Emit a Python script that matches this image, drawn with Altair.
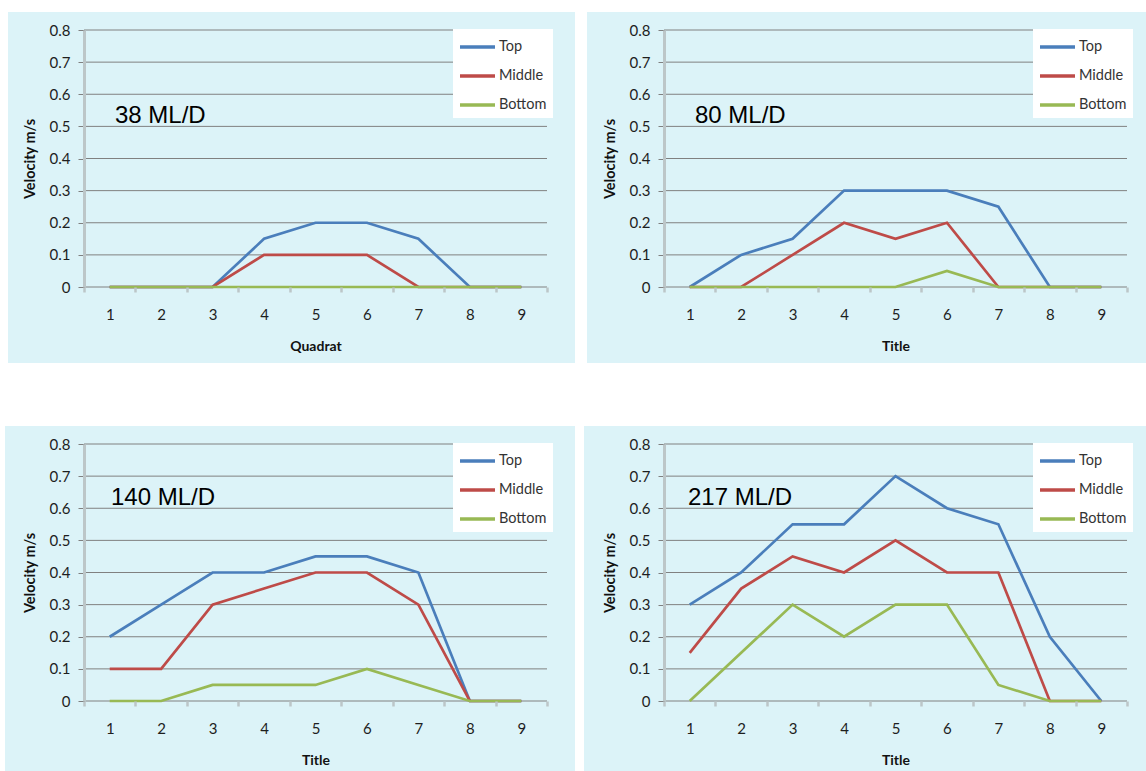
import altair as alt
import pandas as pd

# Quadrat positions along the channel
quadrats = [1, 2, 3, 4, 5, 6, 7, 8, 9]
series = ["Top", "Middle", "Bottom"]
series_colors = ["#4a7ebb", "#be4b48", "#98b954"]

# Velocity (m/s) at each quadrat, per flow rate
top_38 = [0, 0, 0, 0.15, 0.2, 0.2, 0.15, 0, 0]
middle_38 = [0, 0, 0, 0.1, 0.1, 0.1, 0, 0, 0]
bottom_38 = [0, 0, 0, 0, 0, 0, 0, 0, 0]

top_80 = [0, 0.1, 0.15, 0.3, 0.3, 0.3, 0.25, 0, 0]
middle_80 = [0, 0, 0.1, 0.2, 0.15, 0.2, 0, 0, 0]
bottom_80 = [0, 0, 0, 0, 0, 0.05, 0, 0, 0]

top_140 = [0.2, 0.3, 0.4, 0.4, 0.45, 0.45, 0.4, 0, 0]
middle_140 = [0.1, 0.1, 0.3, 0.35, 0.4, 0.4, 0.3, 0, 0]
bottom_140 = [0, 0, 0.05, 0.05, 0.05, 0.1, 0.05, 0, 0]

top_217 = [0.3, 0.4, 0.55, 0.55, 0.7, 0.6, 0.55, 0.2, 0]
middle_217 = [0.15, 0.35, 0.45, 0.4, 0.5, 0.4, 0.4, 0, 0]
bottom_217 = [0, 0.15, 0.3, 0.2, 0.3, 0.3, 0.05, 0, 0]

flow_labels = ["38 ML/D", "80 ML/D", "140 ML/D", "217 ML/D"]
x_titles = ["Quadrat", "Title", "Title", "Title"]
y_ticks = [0, 0.1, 0.2, 0.3, 0.4, 0.5, 0.6, 0.7, 0.8]

W, H = 463, 257
BG = "#dcf3f8"
LABEL_FONT = "Lato"
Y_SCALE = alt.Scale(domain=[0, 0.8], nice=False)


def y_axis():
    return alt.Axis(
        title="Velocity m/s", values=y_ticks, grid=False,
        labelExpr="datum.value == 0 ? '0' : format(datum.value, '.1f')",
        domain=True, domainColor="#bcc6c8", domainWidth=3,
        ticks=True, tickColor="#808080", tickSize=6, tickWidth=1,
        labelPadding=8, labelFontSize=15, labelFont=LABEL_FONT,
        labelColor="#1e1e1e", titleFont=LABEL_FONT, titleFontSize=14.5,
        titleFontWeight="bold", titleColor="#111", titlePadding=12,
        zindex=1,
    )


def panel(flow, x_title, top, middle, bottom, bg_box, flow_pos):
    df = pd.DataFrame({
        "Quadrat": quadrats * 3,
        "Velocity": top + middle + bottom,
        "Series": ["Top"] * 9 + ["Middle"] * 9 + ["Bottom"] * 9,
    })

    # light cyan card behind the whole panel, axes included
    card = alt.Chart(pd.DataFrame({"c": [0]})).mark_rect(color=BG).encode(
        x=alt.value(bg_box[0]), x2=alt.value(bg_box[1]),
        y=alt.value(bg_box[2]), y2=alt.value(bg_box[3]),
    )

    # horizontal gridlines (the one at 0 doubles as the category axis line)
    grid = alt.Chart(pd.DataFrame({"Velocity": y_ticks})).mark_rule(
        color="#808080", strokeWidth=1
    ).encode(y=alt.Y("Velocity:Q", scale=Y_SCALE, axis=y_axis()))

    lines = alt.Chart(df).mark_line(strokeWidth=2.7).encode(
        x=alt.X(
            "Quadrat:O",
            scale=alt.Scale(type="band", paddingInner=0, paddingOuter=0),
            axis=alt.Axis(
                title=x_title, labelAngle=0, domain=False, grid=False,
                ticks=True, tickBand="extent", tickSize=5, tickWidth=2.5,
                tickColor="#bcc6c8", labelPadding=15, labelFontSize=15,
                labelFont=LABEL_FONT, labelColor="#1e1e1e",
                titleFont=LABEL_FONT, titleFontSize=14, titleFontWeight="bold",
                titleColor="#111", titlePadding=17, zindex=1,
            ),
        ),
        y=alt.Y("Velocity:Q", scale=Y_SCALE, axis=y_axis()),
        color=alt.Color(
            "Series:N",
            scale=alt.Scale(domain=series, range=series_colors),
            legend=alt.Legend(
                orient="none", legendX=369, legendY=-1, title=None,
                fillColor="white", padding=6, rowPadding=10,
                symbolType="M-1.75,0H1.75", symbolStrokeWidth=3.5,
                symbolSize=400, symbolOffset=6.5,
                labelFont=LABEL_FONT, labelFontSize=14.5,
                labelColor="#333", labelOffset=9.5, zindex=2,
            ),
        ),
    )

    flow_text = alt.Chart(pd.DataFrame({"flow": [flow]})).mark_text(
        align="left", baseline="alphabetic", fontSize=24,
        font="Liberation Sans", color="#000",
    ).encode(text="flow:N", x=alt.value(flow_pos[0]), y=alt.value(flow_pos[1]))

    return alt.layer(card, grid, lines, flow_text).properties(width=W, height=H)


p1 = panel(flow_labels[0], x_titles[0], top_38, middle_38, bottom_38,
           (-76, 491, -18, 333), (31, 93))
p2 = panel(flow_labels[1], x_titles[1], top_80, middle_80, bottom_80,
           (-77, 482, -18, 333), (31, 93))
p3 = panel(flow_labels[2], x_titles[2], top_140, middle_140, bottom_140,
           (-79, 491, -18, 327), (27, 61))
p4 = panel(flow_labels[3], x_titles[3], top_217, middle_217, bottom_217,
           (-80, 482, -18, 327), (24, 61))

chart = alt.concat(
    p1, p2, p3, p4, columns=2, bounds="flush",
    spacing={"row": 157, "column": 117},
).resolve_scale(
    x="independent", y="independent", color="independent"
).resolve_legend(color="independent").properties(
    padding={"left": 5, "top": 12, "right": 0, "bottom": 0},
    background="white",
).configure_view(stroke=None)

chart.save("out.html", embed_options={"renderer": "svg", "actions": False})
